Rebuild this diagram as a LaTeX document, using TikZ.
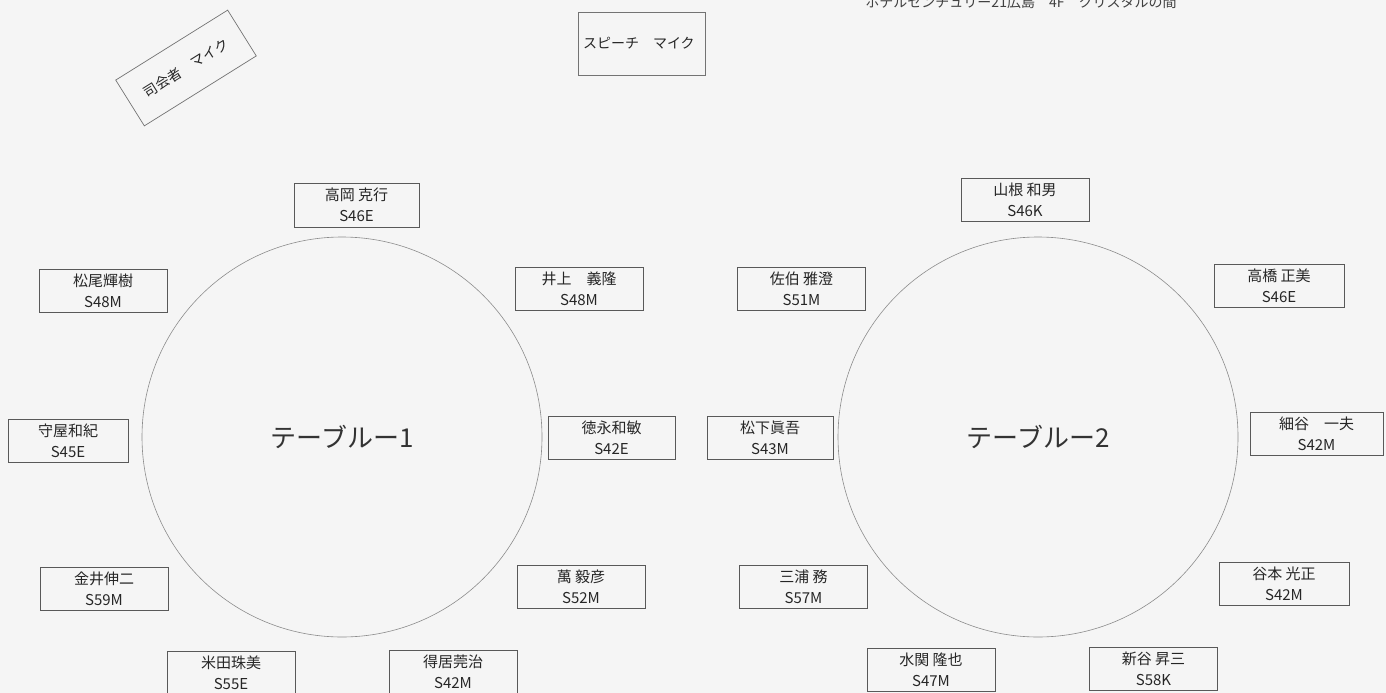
\documentclass[tikz,border=0pt]{standalone}
\usepackage{fontspec}
\setmainfont{Noto Sans CJK JP}
\begin{document}
\begin{tikzpicture}[x=1pt,y=-1pt,
  seat/.style={draw=black!65,line width=0.8pt,text=black!85,minimum width=128pt,minimum height=43pt,
    inner sep=0pt,align=center,font=\fontsize{15}{21}\selectfont},
  mic/.style={draw=black!55,line width=0.7pt,text=black!85,font=\fontsize{14}{16}\selectfont},
  table/.style={circle,draw=black!45,line width=0.6pt,minimum size=400pt,inner sep=0pt,
    text=black!80,font=\fontsize{26}{28}\selectfont}]
% Plan de table
\useasboundingbox (0,0) rectangle (1386,693);
\clip (0,0) rectangle (1386,693);
\fill[black!4] (0,0) rectangle (1386,693);
\node[text=black!75,font=\fontsize{14}{14}\selectfont] (hotel) at (1021,2) {ホテルセンチュリー21広島　4F　クリスタルの間};
\node[mic,rotate=32,minimum width=132pt,minimum height=54pt] (mc) at (186,68) {司会者　マイク};
\node[mic,text width=117pt,inner sep=5pt,minimum height=63pt,align=left] (speech) at (641.5,43.5) {スピーチ　マイク};
% Tables
\node[table] (T1) at (342,437) {テーブルー1};
\node[table] (T2) at (1038,437) {テーブルー2};
% Table 1
\node[seat,minimum width=125pt,minimum height=44pt] (s11) at (356.5,205) {高岡 克行\\S46E};
\node[seat] (s12) at (103,291) {松尾輝樹\\S48M};
\node[seat] (s13) at (579,289) {井上　義隆\\S48M};
\node[seat,minimum width=120pt] (s14) at (68,441) {守屋和紀\\S45E};
\node[seat,minimum width=127pt] (s15) at (611.5,437.5) {徳永和敏\\S42E};
\node[seat] (s16) at (104,589) {金井伸二\\S59M};
\node[seat] (s17) at (581,587) {萬 毅彦\\S52M};
\node[seat] (s18) at (231,673) {米田珠美\\S55E};
\node[seat] (s19) at (453,671.5) {得居莞治\\S42M};
% Table 2
\node[seat] (s21) at (1025,200) {山根 和男\\S46K};
\node[seat] (s22) at (801.5,289) {佐伯 雅澄\\S51M};
\node[seat,minimum width=130pt] (s23) at (1279,286) {高橋 正美\\S46E};
\node[seat,minimum width=126pt] (s24) at (770,437.5) {松下眞吾\\S43M};
\node[seat,minimum width=133pt] (s25) at (1316.5,433.5) {細谷　一夫\\S42M};
\node[seat] (s26) at (803.5,586.5) {三浦 務\\S57M};
\node[seat,minimum width=130pt] (s27) at (1284,583.5) {谷本 光正\\S42M};
\node[seat] (s28) at (931,670) {水関 隆也\\S47M};
\node[seat] (s29) at (1153.5,668.5) {新谷 昇三\\S58K};
\end{tikzpicture}
\end{document}
